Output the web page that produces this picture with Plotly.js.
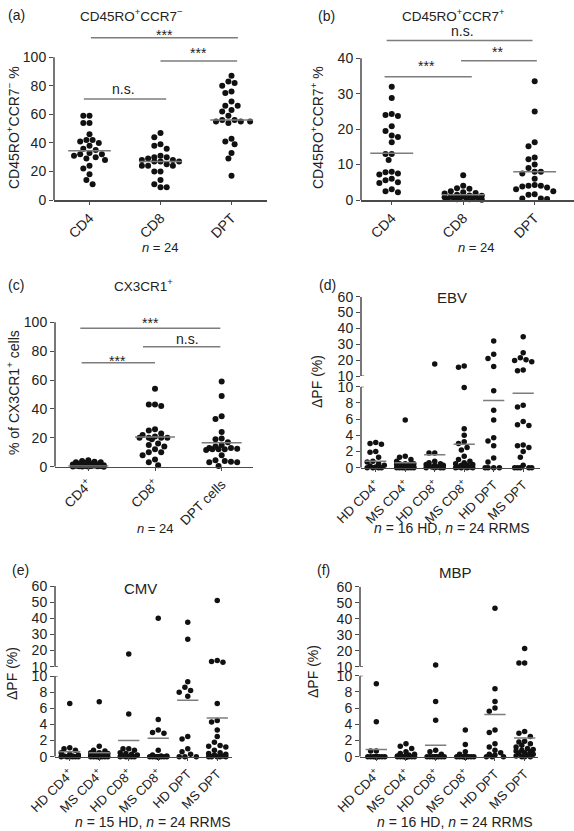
<!DOCTYPE html>
<html><head><meta charset="utf-8">
<script src="https://cdn.plot.ly/plotly-3.0.1.min.js"></script>
<style>html,body{margin:0;padding:0;background:#fff}#chart{width:574px;height:831px}</style>
</head><body><div id="chart"></div>
<script>
// ---------------- DATA ----------------
// (a) CD45RO+CCR7-  (%)
const aCats = ['CD4', 'CD8', 'DPT'];
const aCD4 = [59, 59, 54, 54, 46, 42, 42, 41, 40, 38, 36, 35, 33, 32, 32, 31, 30, 29, 28, 24, 22, 18, 14, 11];
const aCD8 = [47, 44, 39, 38, 36, 31, 30, 30, 29, 28, 28, 27, 27, 27, 25, 24, 24, 24, 20, 20, 14, 11, 9, 9];
const aDPT = [87, 83, 82, 80, 76, 75, 69, 66, 66, 63, 62, 59, 56, 56, 55, 55, 55, 54, 43, 41, 39, 33, 29, 17];
const aMed = [34.5, 27, 56];
const aTicks = [0, 20, 40, 60, 80, 100];

// (b) CD45RO+CCR7+  (%)
const bCats = ['CD4', 'CD8', 'DPT'];
const bCD4 = [32, 28.8, 24.3, 24, 23.7, 20.8, 19.5, 18.2, 17.8, 16.3, 13, 13, 11.3, 8, 7.8, 7.5, 7.2, 6, 5.6, 5, 4.8, 3, 2.5, 2.2];
const bCD8 = [7, 4, 3.3, 3.2, 2.5, 2.2, 2, 1.8, 1.5, 1.3, 1.2, 1, 1, 0.9, 0.8, 0.7, 0.6, 0.5, 0.5, 0.4, 0.3, 0.2, 0.2, 0.1];
const bDPT = [33.5, 25, 16.3, 15.2, 12, 11.5, 10, 9, 8, 8, 7.5, 6, 4.2, 4, 4, 3.8, 3.5, 3, 2.5, 1.6, 1.5, 0.4, 0.4, 0.3];
const bMed = [13.2, 1.5, 8];
const bTicks = [0, 10, 20, 30, 40];

// (c) CX3CR1+ (% of cells)
const cCats = ['CD4<sup>+</sup>', 'CD8<sup>+</sup>', 'DPT cells'];
const cCD4 = [4.5, 4, 3.5, 3, 3, 2.5, 2, 2, 1.5, 1.5, 1, 1, 1, 0.8, 0.6, 0.5, 0.5, 0.4, 0.3, 0.3, 0.2, 0.1, 0.1, 0];
const cCD8 = [54, 43, 43, 42, 26, 25, 23, 22, 21, 20, 20, 20, 20, 19, 16, 15, 14, 12, 10, 10, 8, 5, 3, 1];
const cDPT = [59, 49, 35, 33, 24, 19.5, 19, 17, 15, 14, 13, 13, 12.5, 12, 12, 12, 11.5, 8, 4.5, 4, 3.5, 3, 3, 0.5];
const cMed = [0.4, 20.5, 16.5];
const cTicks = [0, 20, 40, 60, 80, 100];

// (d)-(f) delta PF (%)
const pfCats = ['HD CD4<sup>+</sup>', 'MS CD4<sup>+</sup>', 'HD CD8<sup>+</sup>', 'MS CD8<sup>+</sup>', 'HD DPT', 'MS DPT'];
const lowTicks = [0, 2, 4, 6, 8, 10];
const upTicks = [10, 20, 30, 40, 50, 60];

// (d) EBV
const dHDCD4 = [3.1, 3.0, 2.9, 2.0, 1.9, 1.3, 0.8, 0.7, 0.5, 0.3, 0.2, 0.1, 0, 0, 0, 0];
const dMSCD4 = [5.9, 1.4, 1.3, 1, 0.8, 0.5, 0.5, 0.5, 0.5, 0.4, 0.3, 0.3, 0.2, 0.2, 0.1, 0.1, 0, 0, 0, 0, 0, 0, 0, 0];
const dHDCD8 = [17.5, 1.8, 1.8, 0.8, 0.6, 0.5, 0.4, 0.3, 0.3, 0.2, 0.1, 0.1, 0, 0, 0, 0];
const dMSCD8 = [16.3, 15.5, 9.9, 4.8, 4.0, 3.2, 3.0, 2.5, 2.2, 1.4, 1.0, 0.8, 0.6, 0.5, 0.4, 0.3, 0.3, 0.2, 0.1, 0.1, 0, 0, 0, 0];
const dHDDPT = [32, 23.7, 21, 16, 9.5, 7.1, 5.9, 3.7, 3.3, 2.7, 1.2, 0.7, 0, 0, 0, 0];
const dMSDPT = [34.8, 24.7, 21.5, 20.2, 19.8, 19, 13.8, 13.3, 7.7, 7.5, 5.7, 5.3, 5.2, 2.8, 2.7, 2.5, 2.0, 1.3, 0.3, 0, 0, 0, 0, 0];
const dMed = [0.8, 0.6, 1.6, 2.9, 8.3, 9.2];

// (e) CMV
const eHDCD4 = [6.6, 1.1, 1.0, 0.8, 0.5, 0.3, 0.2, 0.1, 0.1, 0, 0, 0, 0, 0, 0];
const eMSCD4 = [6.8, 1.3, 0.8, 0.7, 0.5, 0.5, 0.4, 0.3, 0.3, 0.2, 0.2, 0.1, 0.1, 0, 0, 0, 0, 0, 0, 0, 0, 0, 0, 0];
const eHDCD8 = [17.8, 5.3, 1.0, 1.0, 0.8, 0.5, 0.4, 0.3, 0.2, 0.1, 0, 0, 0, 0, 0];
const eMSCD8 = [40, 4.6, 3.3, 3.0, 2.9, 0.8, 0.2, 0.1, 0.1, 0, 0, 0, 0, 0, 0, 0, 0, 0, 0, 0, 0, 0, 0, 0];
const eHDDPT = [37.5, 27, 9.3, 8.6, 8.2, 8.0, 7.5, 2.5, 2.2, 1.0, 0.6, 0.3, 0, 0, 0];
const eMSDPT = [51, 13.8, 13.2, 12.8, 6.6, 4.5, 4.3, 3.3, 2.5, 1.8, 1.4, 1.3, 1.2, 0.8, 0.5, 0.4, 0.3, 0.2, 0.1, 0, 0, 0, 0, 0];
const eMed = [0.6, 0.5, 2.0, 2.3, 7.0, 4.8];

// (f) MBP
const fHDCD4 = [9.0, 4.3, 0.7, 0.7, 0, 0, 0, 0, 0, 0, 0, 0, 0, 0, 0, 0];
const fMSCD4 = [1.6, 1.3, 1.0, 0.6, 0.4, 0.3, 0.2, 0.1, 0, 0, 0, 0, 0, 0, 0, 0, 0, 0, 0, 0, 0, 0, 0, 0];
const fHDCD8 = [11, 6.8, 4.5, 0.8, 0.6, 0.3, 0, 0, 0, 0, 0, 0, 0, 0, 0, 0];
const fMSCD8 = [3.3, 1.5, 0.6, 0.3, 0, 0, 0, 0, 0, 0, 0, 0, 0, 0, 0, 0, 0, 0, 0, 0, 0, 0, 0, 0];
const fHDDPT = [46.5, 8.4, 6.8, 6.0, 5.6, 3.3, 3.0, 1.6, 1.2, 0.8, 0.5, 0.3, 0.2, 0, 0, 0];
const fMSDPT = [21.3, 12.3, 12.3, 3.1, 2.9, 2.5, 1.9, 1.8, 1.6, 1.4, 1.2, 1.0, 0.9, 0.8, 0.7, 0.6, 0.5, 0.4, 0.3, 0.2, 0.1, 0, 0, 0];
const fMed = [0.9, null, 1.4, null, 5.2, 2.3];

// significance brackets (category units / value units)
const aSig = [
  {x0: 0.02, x1: 2.09, y: 113.7, tx: 1.06, ty: 117.9, t: '***'},
  {x0: 1.0, x1: 2.08, y: 97.4, tx: 1.54, ty: 105.1, t: '***'},
  {x0: -0.08, x1: 1.08, y: 70.8, tx: 0.48, ty: 77.1, t: 'n.s.'}
];
const bSig = [
  {x0: -0.07, x1: 1.97, y: 45.0, tx: 0.99, ty: 47.4, t: 'n.s.'},
  {x0: 0.97, x1: 2.03, y: 39.3, tx: 1.48, ty: 42.6, t: '**'},
  {x0: -0.1, x1: 1.12, y: 34.8, tx: 0.49, ty: 38.7, t: '***'}
];
const cSig = [
  {x0: -0.12, x1: 1.98, y: 95.8, tx: 0.93, ty: 101.6, t: '***'},
  {x0: 0.82, x1: 1.98, y: 83.1, tx: 1.48, ty: 87.7, t: 'n.s.'},
  {x0: -0.1, x1: 1.0, y: 72.0, tx: 0.43, ty: 75.3, t: '***'}
];

// ---------------- STYLE / GEOMETRY ----------------
const W = 574, H = 831;
const FONT = 'Liberation Sans, Arial, Helvetica, sans-serif';
const TXT = '#222';
const DOT = '#111';
const MEDC = '#7d7d7d';
const AXC = '#4a4a4a';

const panels = [
  {xa: 'x', xdom: [54, 267], xr: [-0.5, 2.5], cats: aCats, groups: [aCD4, aCD8, aDPT], med: aMed, mw: 0.3, half: 19, dot: 6, xfont: 14, sig: aSig,
   segs: [{ya: 'y', bottom: 200, top: 22, pyA: 200, pyB: 57.3, v0: 0, v1: 100, ticks: aTicks}]},
  {xa: 'x2', xdom: [361, 574], xr: [-0.43, 2.55], cats: bCats, groups: [bCD4, bCD8, bDPT], med: bMed, mw: 0.3, half: 19, dot: 6, xfont: 14, sig: bSig,
   segs: [{ya: 'y2', bottom: 200, top: 22, pyA: 200, pyB: 58.3, v0: 0, v1: 40, ticks: bTicks}]},
  {xa: 'x3', xdom: [55, 253], xr: [-0.5, 2.47], cats: cCats, groups: [cCD4, cCD8, cDPT], med: cMed, mw: 0.3, half: 18, dot: 6, xfont: 13.5, sig: cSig,
   segs: [{ya: 'y3', bottom: 466.7, top: 300, pyA: 466.7, pyB: 322.3, v0: 0, v1: 100, ticks: cTicks}]},
  {xa: 'x4', xdom: [361, 540], xr: [-0.5, 5.57], cats: pfCats, groups: [dHDCD4, dMSCD4, dHDCD8, dMSCD8, dHDDPT, dMSDPT], med: dMed, mw: 0.36, half: 11, dot: 5.5, xfont: 13, broken: true,
   segs: [{ya: 'y4', bottom: 467.7, top: 386.7, pyA: 467.7, pyB: 386.7, v0: 0, v1: 10, ticks: lowTicks},
          {ya: 'y5', bottom: 376, top: 296.7, pyA: 376, pyB: 296.7, v0: 10, v1: 60, ticks: upTicks}]},
  {xa: 'x5', xdom: [55, 232], xr: [-0.5, 5.5], cats: pfCats, groups: [eHDCD4, eMSCD4, eHDCD8, eMSCD8, eHDDPT, eMSDPT], med: eMed, mw: 0.36, half: 11, dot: 5.5, xfont: 13, broken: true,
   segs: [{ya: 'y6', bottom: 756.7, top: 676, pyA: 756.7, pyB: 676, v0: 0, v1: 10, ticks: lowTicks},
          {ya: 'y7', bottom: 666.7, top: 586, pyA: 666.7, pyB: 586, v0: 10, v1: 60, ticks: upTicks}]},
  {xa: 'x6', xdom: [360, 538], xr: [-0.55, 5.45], cats: pfCats, groups: [fHDCD4, fMSCD4, fHDCD8, fMSCD8, fHDDPT, fMSDPT], med: fMed, mw: 0.36, half: 11, dot: 5.5, xfont: 13, broken: true,
   segs: [{ya: 'y8', bottom: 756.7, top: 675.7, pyA: 756.7, pyB: 675.7, v0: 0, v1: 10, ticks: lowTicks},
          {ya: 'y9', bottom: 666.7, top: 586.7, pyA: 666.7, pyB: 586.7, v0: 10, v1: 60, ticks: upTicks}]}
];

// deterministic beeswarm: horizontal pixel offsets so dots do not overlap
function swarm(vals, pyOf, maxHalf, d) {
  const order = vals.map((v, i) => i).sort((a, b) => (vals[b] - vals[a]) || (a - b));
  const placed = [], off = new Array(vals.length).fill(0);
  const step = d / 2, cands = [0];
  for (let k = 1; k * step <= maxHalf + 1e-9; k++) { cands.push(-k * step, k * step); }
  order.forEach(i => {
    const y = pyOf(vals[i]);
    let best = 0, bestD = -1;
    for (const c of cands) {
      let m = Infinity;
      for (const q of placed) { const dd = Math.hypot(q.x - c, q.y - y); if (dd < m) m = dd; }
      if (m >= d) { best = c; bestD = m; break; }
      if (m > bestD) { bestD = m; best = c; }
    }
    off[i] = best; placed.push({x: best, y: y});
  });
  return off;
}

const axKey = id => id[0] + 'axis' + id.slice(1);
const traces = [], shapes = [], annotations = [];
const layout = {
  width: W, height: H, margin: {l: 0, r: 0, t: 0, b: 0},
  paper_bgcolor: '#fff', plot_bgcolor: 'rgba(0,0,0,0)', showlegend: false,
  font: {family: FONT, color: TXT, size: 14}
};

panels.forEach(p => {
  const pxPerUnit = (p.xdom[1] - p.xdom[0]) / (p.xr[1] - p.xr[0]);
  p.segs.forEach(s => {
    s.scale = (s.pyA - s.pyB) / (s.v1 - s.v0);
    s.range = [s.v0 - (s.bottom - s.pyA) / s.scale, s.v1 + (s.pyB - s.top) / s.scale];
  });
  const segOf = v => p.segs.find(s => v <= s.v1) || p.segs[p.segs.length - 1];
  const pyOf = v => { const s = segOf(v); return s.pyA - (v - s.v0) * s.scale; };
  const domW = p.xdom[1] - p.xdom[0];

  layout[axKey(p.xa)] = {
    domain: [p.xdom[0] / W, p.xdom[1] / W], range: p.xr, anchor: p.segs[0].ya,
    tickmode: 'array', tickvals: p.cats.map((c, i) => i), ticktext: p.cats, tickangle: -45,
    showline: true, linecolor: AXC, linewidth: 1.5, ticks: 'outside', ticklen: 3, tickcolor: AXC, tickwidth: 1,
    showgrid: false, zeroline: false, fixedrange: true, tickfont: {family: FONT, size: p.xfont, color: TXT}
  };
  p.segs.forEach((s, si) => {
    layout[axKey(s.ya)] = {
      domain: [1 - s.bottom / H, 1 - s.top / H], range: s.range, anchor: p.xa,
      tickmode: 'array', tickvals: s.ticks, ticks: 'outside', ticklen: 4, tickcolor: AXC, tickwidth: 1,
      showline: false, showgrid: false, zeroline: false, fixedrange: true,
      tickfont: {family: FONT, size: 14, color: TXT}
    };
    shapes.push({type: 'line', xref: p.xa + ' domain', yref: s.ya, x0: 0, x1: 0, y0: s.v0, y1: s.v1,
                 line: {color: AXC, width: 1.5}});
    if (p.broken) {
      const stub = 3 / domW;
      const yv = si === 0 ? s.v1 : s.v0;
      shapes.push({type: 'line', xref: p.xa + ' domain', yref: s.ya, x0: 0, x1: stub, y0: yv, y1: yv,
                   line: {color: AXC, width: 1.2}});
    }
  });

  p.groups.forEach((g, i) => {
    const offs = swarm(g, pyOf, p.half, p.dot + 0.2);
    p.segs.forEach(s => {
      const xs = [], ys = [];
      g.forEach((v, j) => { if (segOf(v) === s) { xs.push(i + offs[j] / pxPerUnit); ys.push(v); } });
      if (xs.length) traces.push({type: 'scatter', mode: 'markers', x: xs, y: ys, xaxis: p.xa, yaxis: s.ya,
        cliponaxis: false, hoverinfo: 'skip', marker: {color: DOT, size: p.dot, line: {width: 0}}});
    });
    const m = p.med[i];
    if (m !== null && m !== undefined) {
      const s = segOf(m);
      shapes.push({type: 'line', xref: p.xa, yref: s.ya, x0: i - p.mw, x1: i + p.mw, y0: m, y1: m,
                   line: {color: MEDC, width: 1.5}});
    }
  });

  (p.sig || []).forEach(b => {
    const ya = p.segs[0].ya;
    shapes.push({type: 'line', xref: p.xa, yref: ya, x0: b.x0, x1: b.x1, y0: b.y, y1: b.y,
                 line: {color: MEDC, width: 1.5}});
    const isStar = b.t.indexOf('*') >= 0;
    annotations.push({xref: p.xa, yref: ya, x: b.tx, y: b.ty, text: b.t, showarrow: false,
                      xanchor: 'center', yanchor: 'middle', yshift: isStar ? -3 : 1,
                      font: {family: FONT, size: 14, color: TXT}});
  });
});

function ann(text, x, y, size, extra) {
  annotations.push(Object.assign({xref: 'paper', yref: 'paper', x: x / W, y: 1 - y / H, text: text,
    showarrow: false, xanchor: 'center', yanchor: 'middle', font: {family: FONT, size: size, color: TXT}}, extra || {}));
}
// panel letters
ann('(a)', 16, 15, 14); ann('(b)', 326, 16, 14); ann('(c)', 16, 285, 14);
ann('(d)', 327, 285, 14); ann('(e)', 20, 570, 14); ann('(f)', 323, 570, 14);
// titles
ann('CD45RO<sup>+</sup>CCR7<sup>−</sup>', 131, 15, 13.5);
ann('CD45RO<sup>+</sup>CCR7<sup>+</sup>', 453, 15, 13.5);
ann('CX3CR1<sup>+</sup>', 143, 285, 13.5);
ann('EBV', 452, 297, 15); ann('CMV', 140, 588, 15); ann('MBP', 455, 572, 15);
// y titles
ann('CD45RO<sup>+</sup>CCR7<sup>−</sup> %', 13, 128, 14, {textangle: -90});
ann('CD45RO<sup>+</sup>CCR7<sup>+</sup> %', 317, 128, 14, {textangle: -90});
ann('% of CX3CR1<sup>+</sup> cells', 13, 393, 14, {textangle: -90});
ann('ΔPF (%)', 317, 382, 14, {textangle: -90});
ann('ΔPF (%)', 12, 674, 14, {textangle: -90});
ann('ΔPF (%)', 313, 672, 14, {textangle: -90});
// n labels
ann('<i>n</i> = 24', 160, 248, 13);
ann('<i>n</i> = 24', 477, 248, 13);
ann('<i>n</i> = 24', 155, 528, 13);
ann('<i>n</i> = 16 HD, <i>n</i> = 24 RRMS', 452, 528, 14);
ann('<i>n</i> = 15 HD, <i>n</i> = 24 RRMS', 153, 822, 14);
ann('<i>n</i> = 16 HD, <i>n</i> = 24 RRMS', 455, 822, 14);

layout.shapes = shapes;
layout.annotations = annotations;
Plotly.newPlot('chart', traces, layout, {staticPlot: true, displayModeBar: false});
</script>
</body></html>
